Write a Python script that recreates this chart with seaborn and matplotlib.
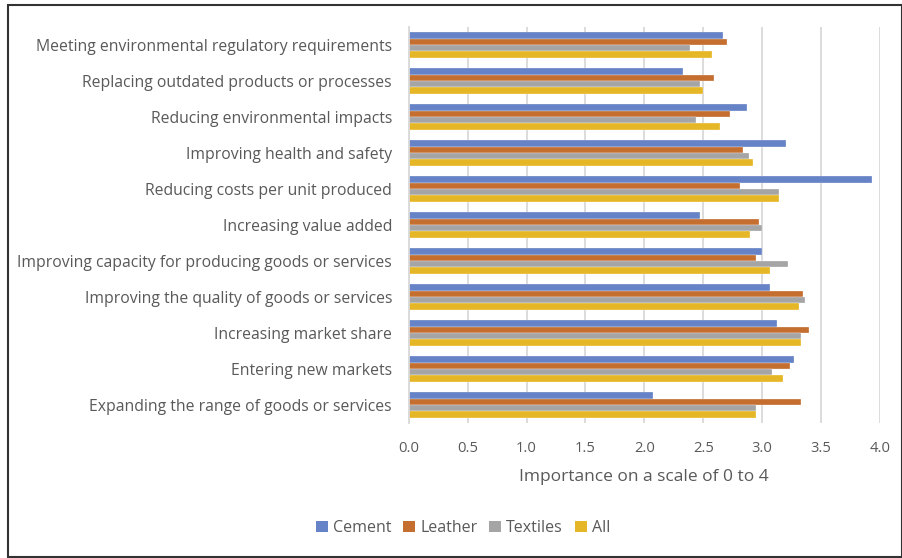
import matplotlib
matplotlib.use("Agg")
import matplotlib.pyplot as plt
from matplotlib.patches import Rectangle, Patch
import seaborn as sns
import pandas as pd

categories = [
    "Meeting environmental regulatory requirements",
    "Replacing outdated products or processes",
    "Reducing environmental impacts",
    "Improving health and safety",
    "Reducing costs per unit produced",
    "Increasing value added",
    "Improving capacity for producing goods or services",
    "Improving the quality of goods or services",
    "Increasing market share",
    "Entering new markets",
    "Expanding the range of goods or services",
]
series = ["Cement", "Leather", "Textiles", "All"]
cement   = [2.67, 2.33, 2.87, 3.20, 3.93, 2.47, 3.00, 3.07, 3.13, 3.27, 2.07]
leather  = [2.70, 2.59, 2.73, 2.84, 2.81, 2.97, 2.95, 3.35, 3.40, 3.24, 3.33]
textiles = [2.39, 2.47, 2.44, 2.89, 3.14, 3.00, 3.22, 3.36, 3.33, 3.08, 2.95]
all_     = [2.57, 2.50, 2.64, 2.92, 3.14, 2.90, 3.07, 3.31, 3.33, 3.18, 2.95]
xticks = [0.0, 0.5, 1.0, 1.5, 2.0, 2.5, 3.0, 3.5, 4.0]
colors = ["#6683C7", "#C46E30", "#A5A5A5", "#E5B727"]

rows = []
for s, vals in zip(series, [cement, leather, textiles, all_]):
    for c, v in zip(categories, vals):
        rows.append({"Category": c, "Series": s, "Value": v})
df = pd.DataFrame(rows)

sns.set_style("white")
plt.rcParams["font.family"] = ["Open Sans", "DejaVu Sans"]
text_color = "#595959"

W, H = 902, 558
fig = plt.figure(figsize=(W / 100, H / 100), dpi=100)
ax = fig.add_axes([408.7 / W, 1 - 423 / H, (880 - 408.7) / W, (423 - 27) / H])

sns.barplot(data=df, y="Category", x="Value", hue="Series", order=categories,
            hue_order=series, palette=colors, orient="h", width=0.72,
            ax=ax, legend=False, saturation=1, edgecolor="white", linewidth=0.2)

ax.set_xlim(0, 4.0)
ax.set_xticks(xticks)
ax.set_xticklabels([f"{t:.1f}" for t in xticks], color=text_color, fontsize=10.6)
ax.set_yticklabels(categories, color=text_color, fontsize=11.3)
ax.tick_params(axis="y", length=0, pad=12)
ax.tick_params(axis="x", length=0, pad=13)
ax.xaxis.grid(True, color="#D9D9D9", linewidth=1.3)
ax.set_axisbelow(True)
for side in ["top", "right", "bottom"]:
    ax.spines[side].set_visible(False)
ax.spines["left"].set_color("#D9D9D9")
ax.spines["left"].set_linewidth(1.3)
ax.set_ylabel("")
ax.set_xlabel("Importance on a scale of 0 to 4", color=text_color, fontsize=12.5, labelpad=9)

handles = [Patch(facecolor=c, edgecolor="none") for c in colors]
fig.legend(handles, series, loc="center", bbox_to_anchor=(463 / W, 1 - 528 / H),
           ncol=4, frameon=False, fontsize=11.5, labelcolor=text_color,
           handlelength=0.75, handleheight=0.75, handletextpad=0.3, columnspacing=0.75)

fig.patches.append(Rectangle((8 / W, 1 - 557 / H), (W - 8) / W, (557 - 4.5) / H,
                             transform=fig.transFigure, fill=False,
                             edgecolor="#333333", linewidth=1.5))

fig.savefig("out.png", dpi=100)
